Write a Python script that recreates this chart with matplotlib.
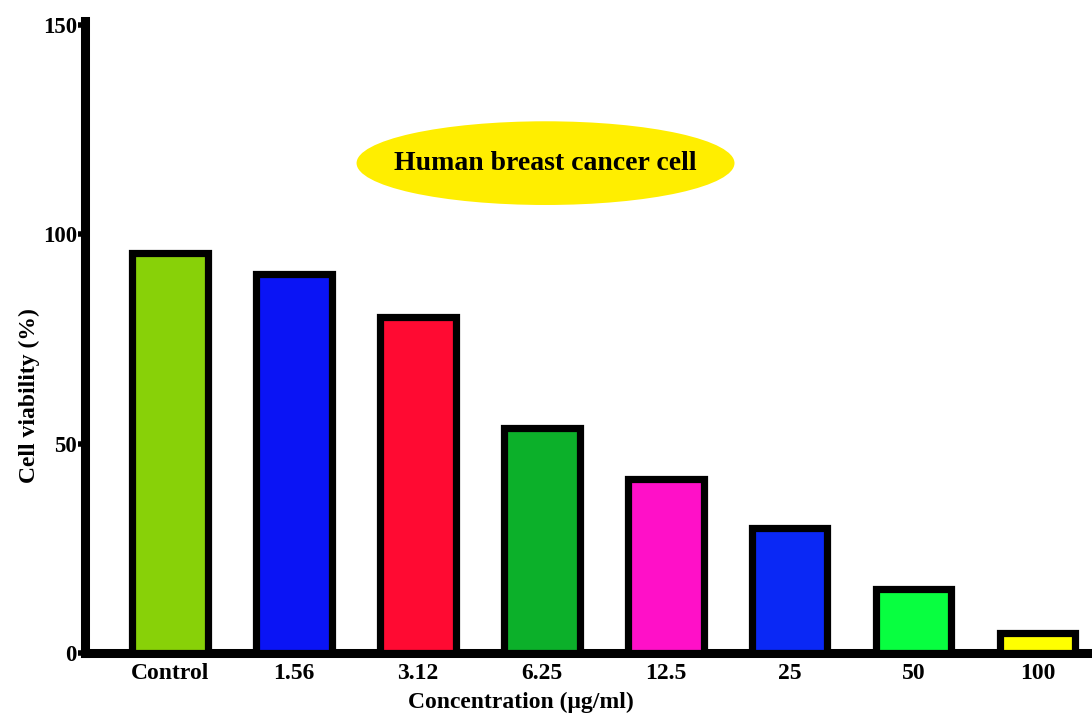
import matplotlib.pyplot as plt
from matplotlib.patches import Ellipse

categories = ["Control", "1.56", "3.12", "6.25", "12.5", "25", "50", "100"]
viability = [95.5, 90.5, 80.2, 53.7, 41.6, 29.9, 15.3, 4.8]
bar_colors = ["#88d108", "#0a14f5", "#ff0a32", "#0cb02a",
              "#ff10c8", "#0a28f5", "#08ff40", "#ffff00"]
y_ticks = [0, 50, 100, 150]

plt.rcParams["font.family"] = ["Liberation Serif", "DejaVu Serif"]
plt.rcParams["font.weight"] = "bold"

fig = plt.figure(figsize=(10.92, 7.15), dpi=100)
ax = fig.add_axes([0.078, 0.087, 0.922, 0.878])

x = range(len(categories))
ax.bar(x, viability, width=0.61, color=bar_colors, edgecolor="black",
       linewidth=5.2, zorder=3)

ax.set_xlim(-0.685, 7.44)
ax.set_ylim(0, 150)
ax.set_yticks(y_ticks)
ax.set_yticklabels([str(t) for t in y_ticks], fontsize=16.5, fontweight="bold")
ax.set_xticks(list(x))
ax.set_xticklabels(categories, fontsize=17, fontweight="bold")
ax.tick_params(axis="x", length=0, pad=7)
ax.tick_params(axis="y", length=5, width=4, pad=1)

for side in ["top", "right"]:
    ax.spines[side].set_visible(False)
for side in ["left", "bottom"]:
    ax.spines[side].set_linewidth(6.5)
ax.spines["left"].set_bounds(0, 151)

ax.set_xlabel("Concentration (\u03bcg/ml)", fontsize=17, fontweight="bold")
ax.xaxis.set_label_coords(0.433, -0.062)
ax.set_ylabel("Cell viability (%)", fontsize=17, fontweight="bold")
ax.yaxis.set_label_coords(-0.045, 0.41)

# yellow oval title
ell = Ellipse((3.03, 117), 3.05, 20, facecolor="#ffee00", edgecolor="none",
              zorder=4, clip_on=False)
ax.add_patch(ell)
ax.text(3.03, 117, "Human breast cancer cell", ha="center", va="center",
        fontsize=20, fontweight="bold", zorder=5)

fig.savefig("out.png", dpi=100)
